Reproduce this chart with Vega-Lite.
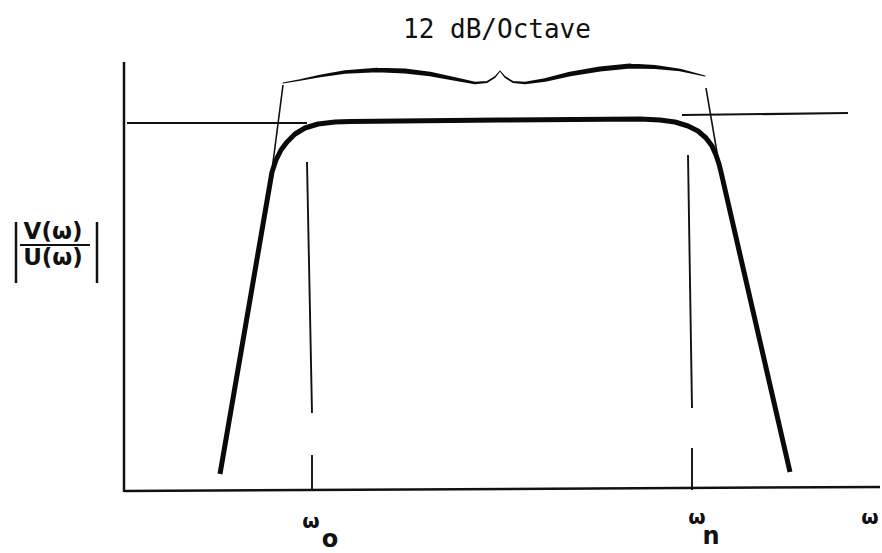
{
  "$schema": "https://vega.github.io/schema/vega-lite/v6.json",
  "autosize": {"type": "fit", "contains": "padding"},
  "width": 882,
  "height": 553,
  "padding": 0,
  "background": "white",
  "config": {"view": {"stroke": null}},
  "datasets": {
    "lines": [
      {"kind": "axis", "x": 124, "y": 491, "x2": 124, "y2": 61},
      {"kind": "axis", "x": 124, "y": 62, "x2": 880, "y2": 66},
      {"kind": "guide", "x": 127, "y": 430, "x2": 307, "y2": 430},
      {"kind": "guide", "x": 682, "y": 438, "x2": 848, "y2": 440},
      {"kind": "tangent", "x": 283, "y": 468, "x2": 271, "y2": 375},
      {"kind": "tangent", "x": 706, "y": 465, "x2": 720, "y2": 383},
      {"kind": "marker", "x": 307, "y": 391, "x2": 312, "y2": 140},
      {"kind": "marker", "x": 312, "y": 98, "x2": 312, "y2": 63},
      {"kind": "marker", "x": 688, "y": 398, "x2": 692, "y2": 145},
      {"kind": "marker", "x": 692, "y": 105, "x2": 692, "y2": 63},
      {"kind": "axis", "x": 16, "y": 331, "x2": 16, "y2": 270},
      {"kind": "axis", "x": 97, "y": 331, "x2": 97, "y2": 270},
      {"kind": "guide", "x": 20, "y": 308, "x2": 90, "y2": 308}
    ],
    "curve": [
      {"i": 1, "x": 220, "y": 79},
      {"i": 2, "x": 272, "y": 381},
      {"i": 3, "x": 276, "y": 393},
      {"i": 4, "x": 281, "y": 403},
      {"i": 5, "x": 287, "y": 411},
      {"i": 6, "x": 295, "y": 419},
      {"i": 7, "x": 305, "y": 425},
      {"i": 8, "x": 318, "y": 429},
      {"i": 9, "x": 335, "y": 431},
      {"i": 10, "x": 350, "y": 431.5},
      {"i": 11, "x": 500, "y": 433},
      {"i": 12, "x": 640, "y": 434},
      {"i": 13, "x": 660, "y": 433},
      {"i": 14, "x": 675, "y": 431},
      {"i": 15, "x": 688, "y": 427},
      {"i": 16, "x": 698, "y": 422},
      {"i": 17, "x": 706, "y": 415},
      {"i": 18, "x": 712, "y": 407},
      {"i": 19, "x": 716, "y": 398},
      {"i": 20, "x": 719, "y": 389},
      {"i": 21, "x": 721, "y": 381},
      {"i": 22, "x": 790, "y": 81}
    ],
    "brace": [
      {"i": 1, "x": 283, "y": 470, "t": 1},
      {"i": 2, "x": 300, "y": 473, "t": 1.5},
      {"i": 3, "x": 320, "y": 477, "t": 2.5},
      {"i": 4, "x": 345, "y": 481, "t": 3.5},
      {"i": 5, "x": 377, "y": 483, "t": 4.5},
      {"i": 6, "x": 405, "y": 482, "t": 5},
      {"i": 7, "x": 430, "y": 479, "t": 4.5},
      {"i": 8, "x": 455, "y": 474, "t": 3.5},
      {"i": 9, "x": 475, "y": 470, "t": 2.5},
      {"i": 10, "x": 487, "y": 471, "t": 2},
      {"i": 11, "x": 495, "y": 476, "t": 1.5},
      {"i": 12, "x": 500, "y": 482, "t": 1},
      {"i": 13, "x": 505, "y": 476, "t": 1.5},
      {"i": 14, "x": 513, "y": 471, "t": 2},
      {"i": 15, "x": 525, "y": 470, "t": 2.5},
      {"i": 16, "x": 545, "y": 473, "t": 3.5},
      {"i": 17, "x": 570, "y": 479, "t": 4.5},
      {"i": 18, "x": 600, "y": 484, "t": 5},
      {"i": 19, "x": 630, "y": 487, "t": 5},
      {"i": 20, "x": 655, "y": 486, "t": 4},
      {"i": 21, "x": 680, "y": 483, "t": 2.5},
      {"i": 22, "x": 705, "y": 477, "t": 1}
    ],
    "title": [{"x": 497, "y": 523, "label": "12 dB/Octave"}],
    "frac": [
      {"x": 53, "y": 321, "label": "V(ω)"},
      {"x": 53, "y": 295, "label": "U(ω)"}
    ],
    "omegas": [
      {"x": 311, "y": 31, "label": "ω"},
      {"x": 697, "y": 35, "label": "ω"},
      {"x": 870, "y": 35, "label": "ω"}
    ],
    "subs": [
      {"x": 330, "y": 13, "label": "o"},
      {"x": 711, "y": 16, "label": "n"}
    ]
  },
  "layer": [
    {
      "data": {"name": "lines"},
      "mark": {"type": "rule", "color": "#111111", "strokeCap": "butt"},
      "encoding": {
        "x": {"field": "x", "type": "quantitative", "scale": {"domain": [0, 882], "nice": false, "zero": false}, "axis": null},
        "y": {"field": "y", "type": "quantitative", "scale": {"domain": [0, 553], "nice": false, "zero": false}, "axis": null},
        "x2": {"field": "x2"},
        "y2": {"field": "y2"},
        "strokeWidth": {"field": "kind", "type": "nominal", "scale": {"domain": ["axis", "guide", "marker", "tangent"], "range": [2.5, 1.6, 1.8, 1.1]}, "legend": null}
      }
    },
    {
      "data": {"name": "curve"},
      "mark": {"type": "line", "color": "#0a0a0a", "strokeWidth": 5, "interpolate": "linear", "strokeCap": "butt", "strokeJoin": "round"},
      "encoding": {
        "x": {"field": "x", "type": "quantitative"},
        "y": {"field": "y", "type": "quantitative"},
        "order": {"field": "i", "type": "quantitative"}
      }
    },
    {
      "data": {"name": "brace"},
      "mark": {"type": "trail", "color": "#0a0a0a"},
      "encoding": {
        "x": {"field": "x", "type": "quantitative"},
        "y": {"field": "y", "type": "quantitative"},
        "order": {"field": "i", "type": "quantitative"},
        "size": {"field": "t", "type": "quantitative", "scale": null, "legend": null}
      }
    },
    {
      "data": {"name": "title"},
      "mark": {"type": "text", "font": "DejaVu Sans Mono", "fontSize": 26, "fontWeight": 500, "color": "#111111", "align": "center", "baseline": "middle"},
      "encoding": {
        "x": {"field": "x", "type": "quantitative"},
        "y": {"field": "y", "type": "quantitative"},
        "text": {"field": "label"}
      }
    },
    {
      "data": {"name": "frac"},
      "mark": {"type": "text", "font": "DejaVu Sans", "fontSize": 23, "fontWeight": "bold", "color": "#111111", "align": "center", "baseline": "middle"},
      "encoding": {
        "x": {"field": "x", "type": "quantitative"},
        "y": {"field": "y", "type": "quantitative"},
        "text": {"field": "label"}
      }
    },
    {
      "data": {"name": "omegas"},
      "mark": {"type": "text", "font": "DejaVu Sans", "fontSize": 20, "fontWeight": "bold", "color": "#111111", "align": "center", "baseline": "middle"},
      "encoding": {
        "x": {"field": "x", "type": "quantitative"},
        "y": {"field": "y", "type": "quantitative"},
        "text": {"field": "label"}
      }
    },
    {
      "data": {"name": "subs"},
      "mark": {"type": "text", "font": "DejaVu Sans", "fontSize": 24, "fontWeight": "bold", "color": "#111111", "align": "center", "baseline": "middle"},
      "encoding": {
        "x": {"field": "x", "type": "quantitative"},
        "y": {"field": "y", "type": "quantitative"},
        "text": {"field": "label"}
      }
    }
  ]
}
